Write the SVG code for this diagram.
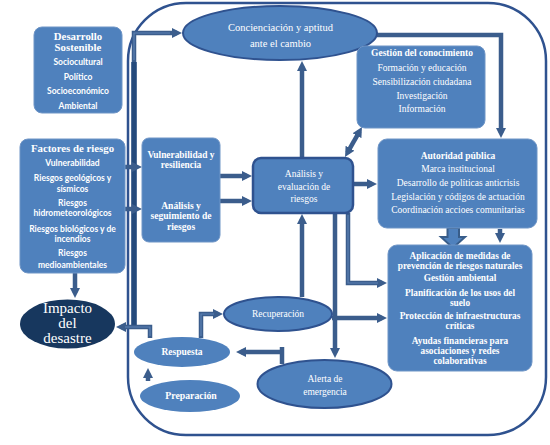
<svg xmlns="http://www.w3.org/2000/svg" width="550" height="445" viewBox="0 0 550 445">
<defs>
<style>
.box{fill:#4F81BD;stroke:#6F95C6;stroke-width:1}
.dbox{fill:#4F81BD;stroke:#2F528F;stroke-width:2.5}
.ell{fill:#4F81BD;stroke:#2F528F;stroke-width:2}
.ell2{fill:#4F81BD;stroke:none}
.c{fill:none;stroke:#3B5D8C;stroke-width:4.5}
.ci{fill:none;stroke:#5D82B5;stroke-width:1.2}
.t{font-family:"Liberation Serif","Times New Roman",serif;fill:#fff;text-anchor:middle}
.b{font-weight:bold}
.s{font-family:Lato,"Liberation Sans",sans-serif;font-weight:bold;fill:#fff;text-anchor:middle;font-size:8.5px}
</style>
<marker id="ah" viewBox="0 0 10 10" refX="5" refY="5" markerWidth="10" markerHeight="10" markerUnits="userSpaceOnUse" orient="auto-start-reverse">
<path d="M0,0 L10,5 L0,10 z" fill="#3B5D8C"/>
</marker>
</defs>
<rect x="0" y="0" width="550" height="445" fill="#fff"/>
<rect id="frame" x="128" y="3" width="418" height="432" rx="58" ry="58" fill="none" stroke="#2F528F" stroke-width="2.5"/>

<g id="connectors">
<path class="c" d="M134,326 V33 H177" marker-end="url(#ah)"/>
<path d="M134,326 V62" fill="none" stroke="#244A7C" stroke-width="5.5"/>
<path class="ci" d="M134,60 V33 H170"/>
<path class="c" d="M150,338 V327 H121" marker-end="url(#ah)"/>
<path class="ci" d="M150,336 V327 H125"/>
<path class="c" d="M75,273 V293" marker-end="url(#ah)"/>
<path class="c" d="M125,167 H137" marker-end="url(#ah)"/>
<path class="c" d="M125,209 H137" marker-end="url(#ah)"/>
<path class="c" d="M179,180 V193" marker-start="url(#ah)" marker-end="url(#ah)"/>
<path class="c" d="M220,176 H247" marker-end="url(#ah)"/>
<path class="c" d="M220,201 H247" marker-end="url(#ah)"/>
<path class="c" d="M302,158 V66" marker-end="url(#ah)"/>
<path class="c" d="M347.5,152.6 L359.5,131.3" marker-start="url(#ah)" marker-end="url(#ah)"/>
<path class="c" d="M353,184 H372" marker-end="url(#ah)"/>
<path class="c" d="M376,35 H501 V133" marker-end="url(#ah)"/>
<path class="c" d="M500,229 V238" marker-end="url(#ah)"/>
<path d="M447.5,228 H459 V237 H465 L453,248 L441,237 H447.5 Z" fill="#4F81BD" stroke="#385D8A" stroke-width="2"/>
<path class="c" d="M302,297 V219" marker-end="url(#ah)"/>
<path class="c" d="M335,213 V353" marker-end="url(#ah)"/>
<path class="c" d="M332,318 H382" marker-end="url(#ah)"/>
<path class="c" d="M348,213 V283 H382" marker-end="url(#ah)"/>
<path class="ci" d="M348,215 V283 H378"/>
<path class="c" d="M201,338 V314 H218" marker-end="url(#ah)"/>
<path class="ci" d="M201,336 V314 H214"/>
<path class="c" d="M148,381 V373" marker-end="url(#ah)"/>
<path class="c" d="M282,364 V347"/>
<path class="c" d="M282,352 H241" marker-end="url(#ah)"/>
</g>

<g id="desarrollo">
<rect class="box" x="34" y="27" width="88" height="86" rx="8"/>
<text class="t b" font-size="10.8" x="78" y="39.5">Desarrollo</text>
<text class="t b" font-size="10.8" x="78" y="50.5">Sostenible</text>
<text class="s" x="78" y="65">Sociocultural</text>
<text class="s" x="78" y="80">Político</text>
<text class="s" x="78" y="94">Socioeconómico</text>
<text class="s" x="78" y="109">Ambiental</text>
</g>

<g id="factores">
<rect class="box" x="20" y="139" width="105" height="134" rx="8"/>
<text class="t b" font-size="10.8" x="72.5" y="151.5">Factores de riesgo</text>
<text class="s" x="72.5" y="166">Vulnerabilidad</text>
<text class="s" x="72.5" y="181">Riesgos geológicos y</text>
<text class="s" x="72.5" y="192">sísmicos</text>
<text class="s" x="72.5" y="206">Riesgos</text>
<text class="s" x="72.5" y="216">hidrometeorológicos</text>
<text class="s" x="72.5" y="232">Riesgos biológicos y de</text>
<text class="s" x="72.5" y="242">incendios</text>
<text class="s" x="72.5" y="256">Riesgos</text>
<text class="s" x="72.5" y="268">medioambientales</text>
</g>

<g id="impacto">
<ellipse cx="67.5" cy="324" rx="47.5" ry="24.5" fill="#17375E"/>
<text class="t" font-size="15" x="67.5" y="313">Impacto</text>
<text class="t" font-size="15" x="67.5" y="328">del</text>
<text class="t" font-size="15" x="67.5" y="343">desastre</text>
</g>

<g id="vulnerabilidad">
<rect class="box" x="142" y="138" width="78" height="104" rx="7"/>
<text class="t b" font-size="9.4" x="181" y="157.5">Vulnerabilidad y</text>
<text class="t b" font-size="9.4" x="181" y="167.8">resiliencia</text>
<text class="t b" font-size="9.6" x="181" y="209.3">Análisis y</text>
<text class="t b" font-size="9.6" x="181" y="219.4">seguimiento de</text>
<text class="t b" font-size="9.6" x="181" y="229.5">riesgos</text>
</g>

<g id="analisis">
<rect class="dbox" x="253" y="158" width="100" height="55" rx="8"/>
<text class="t" font-size="9.5" x="304" y="176.5">Análisis y</text>
<text class="t" font-size="9.5" x="304" y="189.5">evaluación de</text>
<text class="t" font-size="9.5" x="304" y="201.5">riesgos</text>
</g>

<g id="concienciacion">
<ellipse class="ell" cx="280" cy="33" rx="97" ry="27"/>
<text class="t" font-size="10.5" x="280.5" y="31">Concienciación y aptitud</text>
<text class="t" font-size="10.5" x="280.5" y="47">ante el cambio</text>
</g>

<g id="gestion">
<rect class="box" x="357" y="46" width="128" height="82" rx="8"/>
<text class="t b" font-size="9.5" x="422" y="56.3">Gestión del conocimiento</text>
<text class="t" font-size="9.5" x="422" y="71.3">Formación y educación</text>
<text class="t" font-size="9.5" x="422" y="85.3">Sensibilización ciudadana</text>
<text class="t" font-size="9.5" x="422" y="99.3">Investigación</text>
<text class="t" font-size="9.5" x="422" y="112.3">Información</text>
</g>

<g id="autoridad">
<rect class="box" x="378" y="139" width="159" height="89" rx="9"/>
<text class="t b" font-size="9.5" x="458" y="159.3">Autoridad pública</text>
<text class="t" font-size="9.5" x="458" y="172.3">Marca institucional</text>
<text class="t" font-size="9.5" x="458" y="186.3">Desarrollo de políticas anticrisis</text>
<text class="t" font-size="9.5" x="458" y="200.3">Legislación  y códigos de actuación</text>
<text class="t" font-size="9.5" x="458" y="213.3">Coordinación accioes comunitarias</text>
</g>

<g id="aplicacion">
<rect class="box" x="388" y="245" width="144" height="126" rx="9"/>
<text class="t b" font-size="9.3" x="460" y="259.3">Aplicación de medidas de</text>
<text class="t b" font-size="9.3" x="460" y="269.3">prevención de riesgos naturales</text>
<text class="t b" font-size="9.3" x="460" y="281.3">Gestión ambiental</text>
<text class="t b" font-size="9.3" x="460" y="296.3">Planificación de los usos del</text>
<text class="t b" font-size="9.3" x="460" y="306.3">suelo</text>
<text class="t b" font-size="9.3" x="460" y="319.3">Protección de infraestructuras</text>
<text class="t b" font-size="9.3" x="460" y="329.3">críticas</text>
<text class="t b" font-size="9.3" x="460" y="344.3">Ayudas financieras para</text>
<text class="t b" font-size="9.3" x="460" y="354.3">asociaciones y redes</text>
<text class="t b" font-size="9.3" x="460" y="364.3">colaborativas</text>
</g>

<g id="recuperacion">
<ellipse class="ell" cx="278" cy="314" rx="54" ry="17"/>
<text class="t" font-size="9.5" x="278" y="317.3">Recuperación</text>
</g>

<g id="respuesta">
<ellipse class="ell2" cx="182" cy="352" rx="48" ry="15"/>
<text class="t b" font-size="9.5" x="182" y="355.3">Respuesta</text>
</g>

<g id="preparacion">
<ellipse class="ell2" cx="190" cy="396" rx="50" ry="16"/>
<text class="t b" font-size="9.8" x="191" y="399.4">Preparación</text>
</g>

<g id="alerta">
<ellipse class="ell" cx="324.5" cy="384" rx="67" ry="24"/>
<text class="t" font-size="9.5" x="325" y="382.3">Alerta de</text>
<text class="t" font-size="9.5" x="325" y="395.3">emergencia</text>
</g>
</svg>
